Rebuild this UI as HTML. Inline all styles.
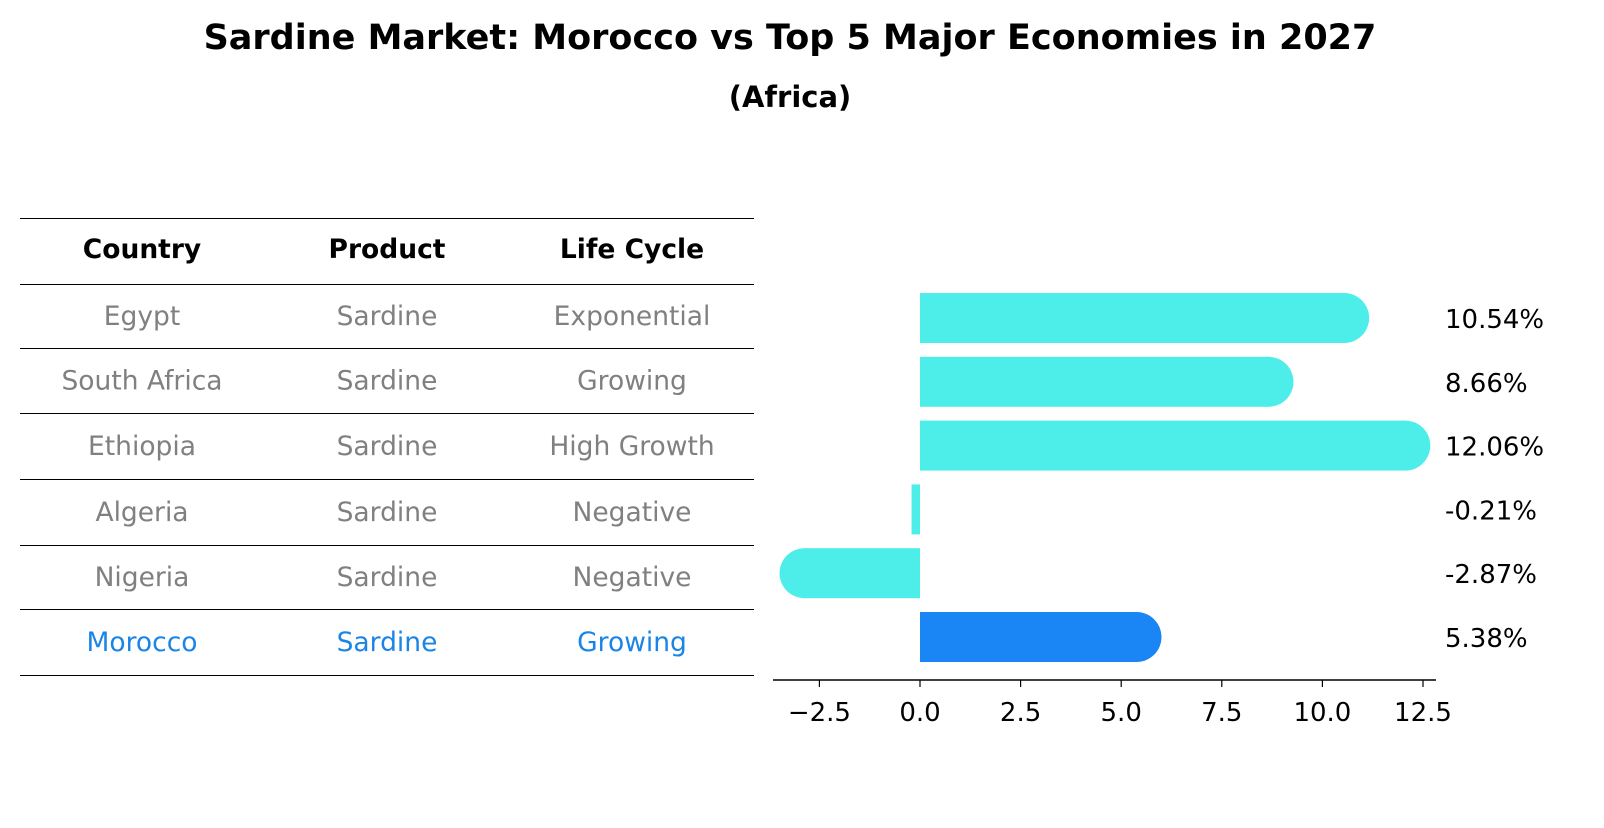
<!DOCTYPE html>
<html><head><meta charset="utf-8"><style>
body{margin:0;background:#fff;width:1604px;height:823px;overflow:hidden;font-family:"Liberation Sans","DejaVu Sans",sans-serif}
</style></head><body>
<svg width="1604" height="823" xmlns="http://www.w3.org/2000/svg" font-family="DejaVu Sans, Liberation Sans, sans-serif">
<text x="790" y="49" text-anchor="middle" font-size="35" font-weight="bold">Sardine Market: Morocco vs Top 5 Major Economies in 2027</text>
<text x="790" y="107" text-anchor="middle" font-size="29" font-weight="bold">(Africa)</text>
<g id="table"></g>
<g id="bars"></g>
</svg>
<script>
const countries=["Egypt","South Africa","Ethiopia","Algeria","Nigeria","Morocco"];
const products=["Sardine","Sardine","Sardine","Sardine","Sardine","Sardine"];
const lifeCycles=["Exponential","Growing","High Growth","Negative","Negative","Growing"];
const values=[10.54,8.66,12.06,-0.21,-2.87,5.38];
const ticks=[-2.5,0,2.5,5,7.5,10,12.5];
const NS="http://www.w3.org/2000/svg";
function mk(t,a,p){const e=document.createElementNS(NS,t);for(const k in a)e.setAttribute(k,a[k]);p.appendChild(e);return e;}
const tb=document.getElementById('table'),bg=document.getElementById('bars');
const lineY=[218,284,348,413,479,545,609,675];
lineY.forEach((y,i)=>{const l=mk('line',{x1:20,x2:754,y1:y+0.5,y2:y+0.5,stroke:'#000','stroke-width':1},tb);

});
const cx=[142,387,632];
["Country","Product","Life Cycle"].forEach((h,i)=>{const t=mk('text',{x:cx[i],y:258,'text-anchor':'middle','font-size':26.5,'font-weight':'bold'},tb);t.textContent=h;

});
countries.forEach((c,r)=>{const y=(lineY[r+1]+lineY[r+2])/2+9;const col=r==5?'#1a85e6':'#808080';
[c,products[r],lifeCycles[r]].forEach((v,i)=>{const t=mk('text',{x:cx[i],y:y,'text-anchor':'middle','font-size':26.5,fill:col},tb);t.textContent=v;

});});
const x0=920,ppu=(1423-920)/12.5;
const X=v=>x0+v*ppu;
const yC=i=>318+i*63.8, bh=50;
values.forEach((v,i)=>{const col=i==5?'#1a85f5':'#4deee9';const y=yC(i);
const a=Math.min(X(0),X(v)),w=Math.abs(X(v)-X(0));
const r=mk('rect',{x:a,y:y-bh/2,width:w,height:bh,fill:col},bg);


if(Math.abs(v)>0.5){const c=mk('circle',{cx:X(v),cy:y,r:bh/2,fill:col},bg);

}
const t=mk('text',{x:1445,y:y+10,'font-size':26},bg);t.textContent=v.toFixed(2)+'%';

});
const ax=mk('line',{x1:773,x2:1436,y1:680,y2:680,stroke:'#000','stroke-width':1.5},bg);


ticks.forEach(v=>{const l=mk('line',{x1:X(v),x2:X(v),y1:680,y2:687,stroke:'#000','stroke-width':1.2},bg);


const t=mk('text',{x:X(v),y:721,'text-anchor':'middle','font-size':26},bg);t.textContent=(v<0?'\u2212':'')+Math.abs(v).toFixed(1);

});
</script>
</body></html>
